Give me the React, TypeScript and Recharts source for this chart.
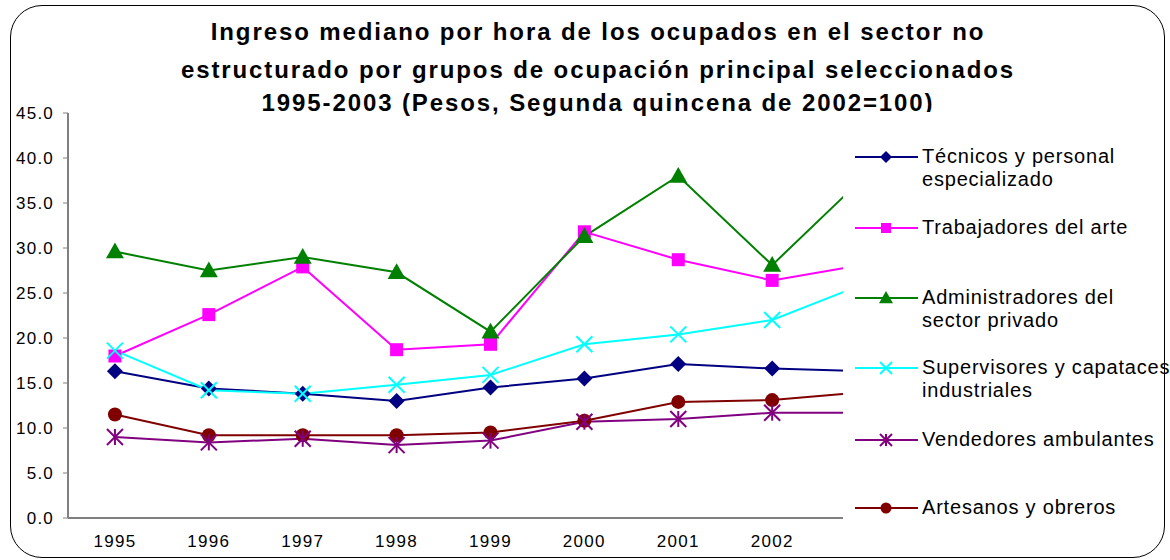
import React from 'react';
import { LineChart, Line, XAxis, YAxis } from 'recharts';

// años (el 2003 queda tapado por la leyenda, como en el original)
const years = [1995, 1996, 1997, 1998, 1999, 2000, 2001, 2002, 2003];
const yearBounds = [1994.5, 1995.5, 1996.5, 1997.5, 1998.5, 1999.5, 2000.5, 2001.5, 2002.5, 2003.5];
const yTicks = [0, 5, 10, 15, 20, 25, 30, 35, 40, 45];

const tecnicos = [16.3, 14.4, 13.8, 13.0, 14.5, 15.5, 17.1, 16.6, 16.3];
const arte = [18.0, 22.6, 27.9, 18.7, 19.3, 31.8, 28.7, 26.4, 28.2];
const administradores = [29.6, 27.5, 29.0, 27.3, 20.7, 31.3, 38.0, 28.1, 38.1];
const supervisores = [18.6, 14.2, 13.8, 14.8, 15.9, 19.3, 20.4, 22.0, 26.1];
const vendedores = [9.0, 8.4, 8.8, 8.1, 8.6, 10.7, 11.0, 11.7, 11.7];
const artesanos = [11.5, 9.2, 9.2, 9.2, 9.5, 10.8, 12.9, 13.1, 14.0];

const data = years.map((year, i) => ({
  year,
  tecnicos: tecnicos[i],
  arte: arte[i],
  administradores: administradores[i],
  supervisores: supervisores[i],
  vendedores: vendedores[i],
  artesanos: artesanos[i],
}));

const FONT = '"Liberation Sans", Arial, sans-serif';

// marcadores estilo Excel
const Diamond = ({ cx, cy, s = 8, color }: any) => (
  <polygon points={`${cx},${cy - s} ${cx + s},${cy} ${cx},${cy + s} ${cx - s},${cy}`} fill={color} />
);
const Square = ({ cx, cy, s = 6.5, color }: any) => (
  <rect x={cx - s} y={cy - s} width={s * 2} height={s * 2} fill={color} />
);
const Triangle = ({ cx, cy, s = 9, color }: any) => (
  <polygon points={`${cx},${cy - s} ${cx + s},${cy + s * 0.75} ${cx - s},${cy + s * 0.75}`} fill={color} />
);
const Cross = ({ cx, cy, s = 8, color }: any) => (
  <g stroke={color} strokeWidth={2}>
    <line x1={cx - s} y1={cy - s} x2={cx + s} y2={cy + s} />
    <line x1={cx - s} y1={cy + s} x2={cx + s} y2={cy - s} />
  </g>
);
const Star = ({ cx, cy, s = 8, color }: any) => (
  <g stroke={color} strokeWidth={2}>
    <line x1={cx - s} y1={cy - s} x2={cx + s} y2={cy + s} />
    <line x1={cx - s} y1={cy + s} x2={cx + s} y2={cy - s} />
    <line x1={cx} y1={cy - s} x2={cx} y2={cy + s} />
  </g>
);
const Circle = ({ cx, cy, s = 7, color }: any) => <circle cx={cx} cy={cy} r={s} fill={color} />;

const series = [
  { key: 'artesanos', name: 'Artesanos y obreros', color: '#800000', Marker: Circle },
  { key: 'vendedores', name: 'Vendedores ambulantes', color: '#800080', Marker: Star },
  { key: 'tecnicos', name: 'Técnicos y personal especializado', color: '#000080', Marker: Diamond },
  { key: 'arte', name: 'Trabajadores del arte', color: '#FF00FF', Marker: Square },
  { key: 'supervisores', name: 'Supervisores y capataces industriales', color: '#00FFFF', Marker: Cross },
  { key: 'administradores', name: 'Administradores del sector privado', color: '#008000', Marker: Triangle },
];

const legendItems = [
  { key: 'tecnicos', lines: ['Técnicos y personal', 'especializado'], top: 157 },
  { key: 'arte', lines: ['Trabajadores del arte'], top: 228 },
  { key: 'administradores', lines: ['Administradores del', 'sector privado'], top: 298 },
  { key: 'supervisores', lines: ['Supervisores y capataces', 'industriales'], top: 368 },
  { key: 'vendedores', lines: ['Vendedores ambulantes'], top: 440 },
  { key: 'artesanos', lines: ['Artesanos y obreros'], top: 508 },
];

const legendMarkerSize: any = { tecnicos: 6, arte: 5, administradores: 7, supervisores: 6, vendedores: 6, artesanos: 5.5 };

const titleLines = [
  'Ingreso mediano por hora de los ocupados en el sector no',
  'estructurado por grupos de ocupación principal seleccionados',
  '1995-2003 (Pesos, Segunda quincena de 2002=100)',
];

export default function App() {
  return (
    <div style={{ position: 'absolute', left: 0, top: 0, width: 1170, height: 560, background: '#fff', fontFamily: FONT, overflow: 'hidden' }}>
      {titleLines.map((t, i) => (
        <div
          key={i}
          style={{
            position: 'absolute', left: 0, width: 1196, top: [17, 55, 88][i], textAlign: 'center',
            fontSize: 24, fontWeight: 'bold', letterSpacing: 1.9, lineHeight: '30px', color: '#000',
            whiteSpace: 'nowrap',
          }}
        >
          {t}
        </div>
      ))}

      <div style={{ position: 'absolute', left: 0, top: 0 }}>
        <LineChart width={930} height={560} data={data} margin={{ top: 113, right: 17, bottom: 12, left: 0 }}>
          <XAxis
            xAxisId="bounds"
            dataKey="year"
            type="number"
            domain={[1994.5, 2003.5]}
            ticks={yearBounds}
            interval={0}
            height={1}
            tick={false}
            tickSize={4}
            stroke="#808080"
            axisLine={{ stroke: '#808080', strokeWidth: 2 }}
          />
          <XAxis
            xAxisId="years"
            dataKey="year"
            type="number"
            domain={[1994.5, 2003.5]}
            ticks={years}
            interval={0}
            height={29}
            axisLine={false}
            tickLine={false}
            tickMargin={10}
            tick={{ fill: '#000', fontSize: 17, letterSpacing: 1.3, fontFamily: FONT }}
          />
          <YAxis
            domain={[0, 45]}
            ticks={yTicks}
            interval={0}
            width={68}
            tickSize={5}
            tickMargin={9}
            stroke="#808080"
            axisLine={{ stroke: '#808080', strokeWidth: 2 }}
            tickFormatter={(v: number) => v.toFixed(1)}
            tick={{ fill: '#000', fontSize: 17, letterSpacing: 1.2, fontFamily: FONT }}
          />
          {series.map((s) => (
            <Line
              key={s.key}
              xAxisId="bounds"
              dataKey={s.key}
              name={s.name}
              type="linear"
              stroke={s.color}
              strokeWidth={2}
              isAnimationActive={false}
              dot={(p: any) => <s.Marker key={`${s.key}-${p.index}`} cx={p.cx} cy={p.cy} color={s.color} />}
              activeDot={false}
            />
          ))}
        </LineChart>
      </div>

      {/* la leyenda tapa el borde derecho del área de trazado */}
      <div style={{ position: 'absolute', left: 843, top: 112, width: 320, height: 442, background: '#fff' }} />
      {legendItems.map((item) => {
        const s = series.find((x) => x.key === item.key)!;
        return (
          <div key={item.key} style={{ position: 'absolute', left: 855, top: item.top - 12 }}>
            <svg width={64} height={24} style={{ position: 'absolute', left: 0, top: 0 }}>
              <line x1={0} y1={12} x2={63} y2={12} stroke={s.color} strokeWidth={2} />
              <s.Marker cx={31} cy={12} s={legendMarkerSize[item.key]} color={s.color} />
            </svg>
            <div
              style={{
                position: 'absolute', left: 67, top: 0, whiteSpace: 'nowrap', fontSize: 20,
                letterSpacing: 0.8, lineHeight: '23px', color: '#000',
              }}
            >
              {item.lines.map((l, i) => (
                <div key={i}>{l}</div>
              ))}
            </div>
          </div>
        );
      })}

      <div
        style={{
          position: 'absolute', left: 10, top: 5, width: 1155, height: 553, boxSizing: 'border-box',
          border: '1.5px solid #000', borderRadius: 32, pointerEvents: 'none',
        }}
      />
    </div>
  );
}
